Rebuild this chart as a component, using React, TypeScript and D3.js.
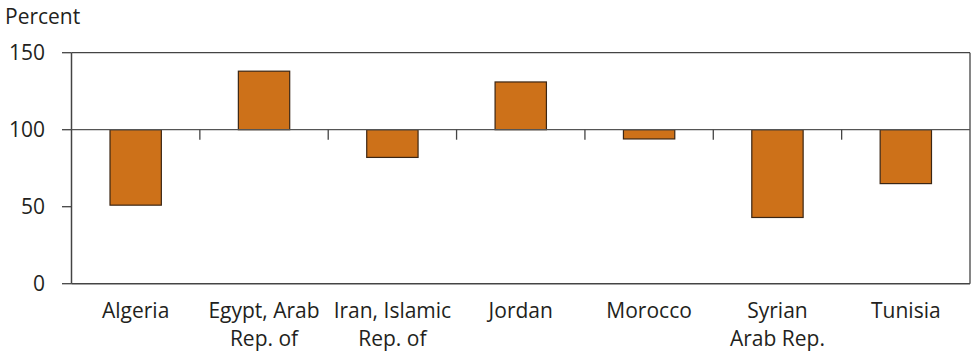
import React from "react";
import * as d3 from "d3";

const categories: string[][] = [
  ["Algeria"],
  ["Egypt, Arab", "Rep. of"],
  ["Iran, Islamic", "Rep. of"],
  ["Jordan"],
  ["Morocco"],
  ["Syrian", "Arab Rep."],
  ["Tunisia"],
];
const values: number[] = [51, 138, 82, 131, 94, 43, 65];
const yTicks: number[] = [0, 50, 100, 150];
const baseline = 100;

const W = 971;
const H = 354;
const left = 71.5;
const right = 970;
const top = 52.7;
const bottom = 283.7;
const FONT = "'Open Sans', 'Noto Sans', sans-serif";
const TEXT = "#231f20";
const FS = 21;

export default function App() {
  const idx = categories.map((_, i) => String(i));
  const x = d3.scaleBand<string>().domain(idx).range([left, right]).paddingInner(0).paddingOuter(0);
  const y = d3.scaleLinear().domain([0, 150]).range([bottom, top]);
  const bw = x.bandwidth() * 0.4;
  const y100 = y(baseline);

  return (
    <svg width={W} height={H} style={{ position: "absolute", left: 0, top: 0, background: "#fff" }}>
      <text x={5} y={24} fontFamily={FONT} fontSize={FS} fill={TEXT}>Percent</text>
      {/* frame */}
      <line x1={left} x2={right} y1={y(150)} y2={y(150)} stroke="#444" strokeWidth={1.3} />
      <line x1={right} x2={right} y1={y(150)} y2={y(0)} stroke="#444" strokeWidth={1.3} />
      <line x1={left} x2={right} y1={y(0)} y2={y(0)} stroke="#444" strokeWidth={1.5} />
      <line x1={left} x2={left} y1={y(150)} y2={y(0)} stroke="#444" strokeWidth={1.5} />
      {yTicks.map((t) => (
        <g key={t}>
          <line x1={62} x2={left} y1={y(t)} y2={y(t)} stroke="#444" strokeWidth={1.3} />
          <text x={45} y={y(t)} dy="0.36em" textAnchor="end" fontFamily={FONT} fontSize={FS} fill={TEXT}>{t}</text>
        </g>
      ))}
      {/* bars */}
      {values.map((v, i) => {
        const cx = (x(String(i)) as number) + x.bandwidth() / 2;
        const y0 = Math.min(y(v), y100);
        const h = Math.abs(y(v) - y100);
        return (
          <rect key={i} x={cx - bw / 2} y={y0} width={bw} height={h} fill="#cd7119" stroke="#3b2614" strokeWidth={1.2} />
        );
      })}
      {/* 100 line */}
      <line x1={left} x2={right} y1={y100} y2={y100} stroke="#555" strokeWidth={1.3} />
      {idx.slice(1).map((k) => (
        <line key={k} x1={x(k) as number} x2={x(k) as number} y1={y100} y2={y100 + 10} stroke="#444" strokeWidth={1.3} />
      ))}
      {/* category labels */}
      {categories.map((lines, i) => {
        const cx = (x(String(i)) as number) + x.bandwidth() / 2;
        return (
          <text key={i} x={cx} y={318} textAnchor="middle" fontFamily={FONT} fontSize={FS} fill={TEXT}>
            {lines.map((l, j) => (
              <tspan key={j} x={cx} dy={j === 0 ? 0 : 28}>{l}</tspan>
            ))}
          </text>
        );
      })}
    </svg>
  );
}
